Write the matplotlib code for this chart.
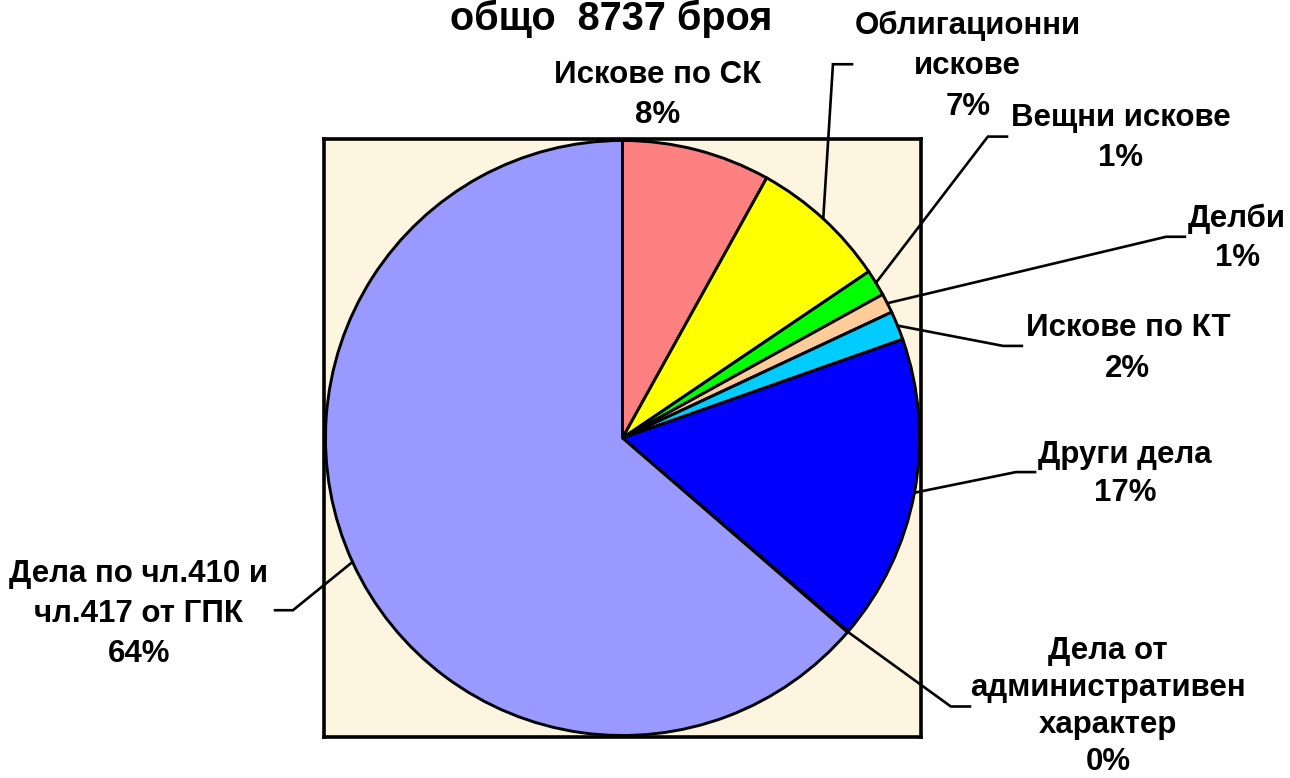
import matplotlib
matplotlib.use("Agg")
import matplotlib.pyplot as plt
import numpy as np

plt.rcParams["font.family"] = ["Liberation Sans", "DejaVu Sans"]
plt.rcParams["font.weight"] = "bold"

# Данни (брой дела, общо 8737)
categories = ["Искове по СК", "Облигационни\nискове", "Вещни искове", "Делби",
              "Искове по КТ", "Други дела", "Дела от\nадминистративен\nхарактер",
              "Дела по чл.410 и\nчл.417 от ГПК"]
counts = [705, 654, 125, 93, 137, 1455, 4, 5564]
colors = ["#FF8080", "#FFFF00", "#00FF00", "#FFCC99", "#00CCFF", "#0000FF",
          "#993366", "#9999FF"]
total = sum(counts)

# Позиции на етикетите (в координати на осите на пая)
label_xy = [(0.119, 1.147), (1.157, 1.243), (1.670, 1.003), (2.059, 0.667),
            (1.693, 0.300), (1.683, -0.121), (1.626, -0.898), (-1.620, -0.589)]
# Чупка на водещата линия и край на хоризонталното „краче“
elbow = [None, (0.705, 1.250), (1.224, 1.008), (1.821, 0.673),
         (1.275, 0.308), (1.318, -0.114), (1.100, -0.898), (-1.104, -0.576)]
stub = [None, (0.769, 1.250), (1.288, 1.008), (1.884, 0.673),
        (1.338, 0.308), (1.382, -0.114), (1.164, -0.898), (-1.164, -0.576)]
spacing = [1.42, 1.46, 1.42, 1.38, 1.5, 1.36, 1.31, 1.42]

fig = plt.figure(figsize=(12.9, 7.78), dpi=100)
ax = fig.add_axes([324 / 1290, 41 / 778, 597 / 1290, 598 / 778])

R = 0.995
wedges, _ = ax.pie(counts, colors=colors, startangle=90, counterclock=False,
                   radius=R, wedgeprops=dict(edgecolor="black", linewidth=2.1))

ax.set_frame_on(True)
ax.set_facecolor("#FDF5E0")
ax.set_xlim(-1, 1)
ax.set_ylim(-1, 1)
ax.set_aspect("auto")
ax.set_xticks([])
ax.set_yticks([])
for sp in ax.spines.values():
    sp.set_linewidth(2.6)
    sp.set_color("black")

for i, w in enumerate(wedges):
    pct = round(counts[i] / total * 100)
    ax.text(*label_xy[i], f"{categories[i]}\n{pct}%", ha="center", va="center",
            fontsize=22.5, fontweight="bold", linespacing=spacing[i],
            clip_on=False)
    if elbow[i] is None:
        continue
    ang = np.deg2rad((w.theta1 + w.theta2) / 2)
    start = (R * np.cos(ang), R * np.sin(ang))
    ax.plot([start[0], elbow[i][0], stub[i][0]],
            [start[1], elbow[i][1], stub[i][1]],
            color="black", lw=1.9, clip_on=False, solid_joinstyle="miter")

fig.text(611 / 1290, 1 - 19 / 778, "общо  8737 броя", ha="center", va="center",
         fontsize=28.5, fontweight="bold")

plt.savefig("out.png", dpi=100)
plt.close()
